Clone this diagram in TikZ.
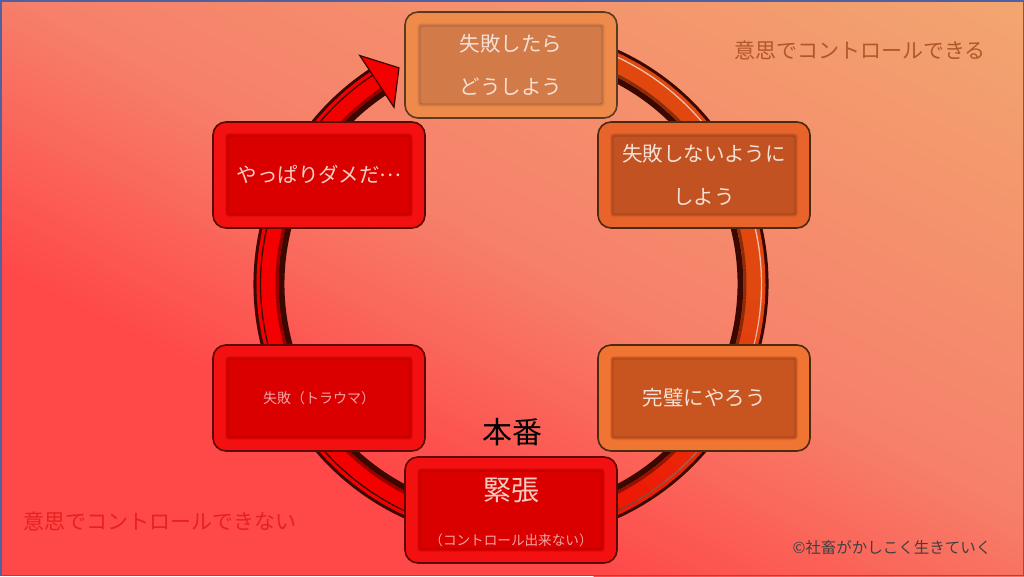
\documentclass[tikz,border=0pt]{standalone}
\usepackage{fontspec}
\newfontfamily\jp{Noto Sans CJK JP}
\usetikzlibrary{calc}
\definecolor{bgred}{HTML}{FF4848}
\definecolor{bgsalmon}{HTML}{F6806A}
\definecolor{bgpeach}{HTML}{F2A870}
\definecolor{ringor}{HTML}{E04810}
\definecolor{ringrd}{HTML}{F50000}
\definecolor{ringdark}{HTML}{3A0800}
\colorlet{hA}{white!65!ringor}
\definecolor{frameblue}{HTML}{5060A0}
\definecolor{obevel}{HTML}{EE8A4A}\definecolor{oinner}{HTML}{D27A48}\definecolor{odark}{HTML}{5A3A20}
\definecolor{rbevel}{HTML}{E8642A}\definecolor{rinner}{HTML}{C25222}\definecolor{rdark}{HTML}{4A2A10}
\definecolor{sbevel}{HTML}{F07432}\definecolor{sinner}{HTML}{C85420}
\definecolor{dbevel}{HTML}{F21010}\definecolor{dinner}{HTML}{DA0000}\definecolor{ddark}{HTML}{5A0A00}
\definecolor{boxtext}{HTML}{F4E0D4}
\definecolor{pinktext}{HTML}{F2A4A4}
\definecolor{browntext}{HTML}{B0582A}
\definecolor{redtext}{HTML}{E82020}
\definecolor{graytext}{HTML}{404040}
\begin{document}
\begin{tikzpicture}[x=1pt,y=-1pt,
  outerbox/.style 2 args={draw=#2, fill=#1, rounded corners=13pt, minimum width=212pt,
    minimum height=106pt, line width=1.6pt, inner sep=0pt},
  innerbox/.style 2 args={fill=#1, draw=#2, rounded corners=3pt, minimum width=188pt,
    minimum height=84pt, line width=1.4pt, inner sep=0pt, align=center, text=boxtext,
    font=\jp\fontsize{20.5}{43}\selectfont,
    path picture={\draw[#1!78!black, line width=0.7pt, rounded corners=2pt]
      ([shift={(3,3)}]path picture bounding box.north west) rectangle
      ([shift={(-3,-3)}]path picture bounding box.south east);}},
  lbl/.style={inner sep=0pt, font=\jp\fontsize{21}{21}\selectfont}
]
\useasboundingbox (0,0) rectangle (1024,576);
% background gradient
\begin{scope}
\clip (0,0) rectangle (1024,576);
\fill[bgred] (0,0) rectangle (1024,576);
\begin{scope}[shift={(512,288)}, rotate=-27]
\foreach \i in {0,...,30}{
  \pgfmathsetmacro\ua{-220+\i*8}
  \pgfmathsetmacro\pp{\i*100/31}
  \fill[bgsalmon!\pp!bgred] (-720,{-(\ua)}) rectangle (720,{-(\ua)-9});
}
\foreach \i in {0,...,39}{
  \pgfmathsetmacro\ua{28+\i*12}
  \pgfmathsetmacro\pp{\i*100/40}
  \fill[bgpeach!\pp!bgsalmon] (-720,{-(\ua)}) rectangle (720,{-(\ua)-13});
}
\fill[bgpeach] (-720,-507) rectangle (720,-900);
\end{scope}
\end{scope}
\draw[frameblue, line width=1.5pt] (0.75,0.75) rectangle (1023.25,575.25);
% ring
\coordinate (rc) at (511,284);
\draw[ringdark, line width=31pt] ($(rc)+(-80:242)$) arc[start angle=-80, end angle=237, radius=242];
\foreach \a in {-80,-76,...,232}{
  \pgfmathsetmacro\pp{max(0,min(100,\a/0.9))}
  \colorlet{rcol}{ringrd!\pp!ringor}
  \draw[rcol, line width=22pt] ($(rc)+(\a:243.5)$) arc[start angle=\a, end angle=\a+4.6, radius=243.5];
  \draw[rcol!62!black, line width=3pt] ($(rc)+(\a:234)$) arc[start angle=\a, end angle=\a+4.6, radius=234];
  \draw[ringdark!\pp!hA, line width=1.3pt] ($(rc)+(\a:250.5)$) arc[start angle=\a, end angle=\a+4.6, radius=250.5];
}
\draw[ringdark, line width=1.2pt, fill=ringrd, line join=miter]
  ($(rc)+(236.5:212)$) -- ($(rc)+(242.6:243.5)$) -- ($(rc)+(236.5:274)$) -- cycle;
% boxes
\node[outerbox={obevel}{odark}] (bT) at (511,65) {};
\node[innerbox={oinner}{obevel}] (tT) at (511,65) {失敗したら\\どうしよう};
\node[outerbox={dbevel}{ddark}] (bUL) at (319,175) {};
\node[innerbox={dinner}{dbevel}, text=boxtext!92!red] (tUL) at (319,175) {やっぱりダメだ\raisebox{0.3em}{…}};
\node[outerbox={rbevel}{rdark}] (bUR) at (704,175) {};
\node[innerbox={rinner}{rbevel}] (tUR) at (704,175) {失敗しないように\\しよう};
\node[outerbox={dbevel}{ddark}] (bLL) at (319,398) {};
\node[innerbox={dinner}{dbevel}, text=pinktext, font=\jp\fontsize{14}{14}\selectfont] (tLL) at (319,398) {失敗（トラウマ）};
\node[outerbox={sbevel}{rdark}] (bLR) at (704,398) {};
\node[innerbox={sinner}{sbevel}] (tLR) at (704,398) {完璧にやろう};
\node[outerbox={dbevel}{ddark}] (bB) at (511,510) {};
\node[innerbox={dinner}{dbevel}] (tB) at (511,510) {};
\node[lbl, text=boxtext!90!red, font=\jp\fontsize{28}{28}\selectfont] (kin) at (511,490) {緊張};
\node[lbl, text=pinktext, font=\jp\fontsize{13.6}{14}\selectfont] (kin2) at (511,540) {（コントロール出来ない）};
% labels
\node[lbl, text=black, font=\jp\fontsize{30}{30}\selectfont] (honban) at (512,432) {本番};
\node[lbl, text=browntext] (can) at (860,50) {意思でコントロールできる};
\node[lbl, text=redtext] (cannot) at (160,521) {意思でコントロールできない};
\node[lbl, text=graytext, font=\jp\fontsize{15.5}{16}\selectfont] (copy) at (892,548) {©社畜がかしこく生きていく};
\end{tikzpicture}
\end{document}
